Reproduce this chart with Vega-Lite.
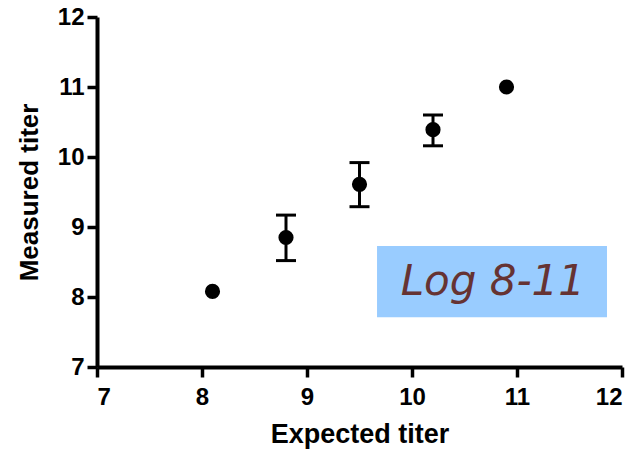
{
  "$schema": "https://vega.github.io/schema/vega-lite/v6.json",
  "width": 525,
  "height": 350,
  "autosize": {"type": "none"},
  "padding": {"left": 97, "top": 17, "right": 19, "bottom": 83},
  "background": "white",
  "config": {
    "view": {"stroke": null},
    "font": "Liberation Sans"
  },
  "datasets": {
    "pts": [
      {"expected": 8.1, "measured": 8.08, "lo": null, "hi": null},
      {"expected": 8.8, "measured": 8.85, "lo": 8.52, "hi": 9.17},
      {"expected": 9.5, "measured": 9.61, "lo": 9.29, "hi": 9.92},
      {"expected": 10.2, "measured": 10.39, "lo": 10.16, "hi": 10.6},
      {"expected": 10.9, "measured": 11.0, "lo": null, "hi": null}
    ],
    "box": [
      {"x1": 9.667, "x2": 11.857, "y1": 7.71, "y2": 8.73, "label": "Log 8-11", "xc": 10.77, "yc": 8.22}
    ]
  },
  "layer": [
    {
      "data": {"name": "box"},
      "mark": {"type": "rect", "color": "#99CCFF"},
      "encoding": {
        "x": {"field": "x1", "type": "quantitative", "scale": {"domain": [7, 12], "nice": false}},
        "x2": {"field": "x2"},
        "y": {"field": "y1", "type": "quantitative", "scale": {"domain": [7, 12], "nice": false}},
        "y2": {"field": "y2"}
      }
    },
    {
      "data": {"name": "box"},
      "mark": {"type": "text", "font": "DejaVu Sans", "fontStyle": "italic", "fontSize": 42, "color": "#663333", "align": "center", "baseline": "middle"},
      "encoding": {
        "x": {"field": "xc", "type": "quantitative"},
        "y": {"field": "yc", "type": "quantitative"},
        "text": {"field": "label"}
      }
    },
    {
      "data": {"name": "pts"},
      "transform": [{"filter": "datum.lo != null"}],
      "mark": {"type": "rule", "color": "black", "strokeWidth": 3},
      "encoding": {
        "x": {"field": "expected", "type": "quantitative"},
        "y": {"field": "lo", "type": "quantitative"},
        "y2": {"field": "hi"}
      }
    },
    {
      "data": {"name": "pts"},
      "transform": [{"filter": "datum.lo != null"}, {"fold": ["lo", "hi"], "as": ["k", "v"]}],
      "mark": {"type": "tick", "orient": "horizontal", "color": "black", "size": 20, "thickness": 3, "opacity": 1},
      "encoding": {
        "x": {"field": "expected", "type": "quantitative"},
        "y": {"field": "v", "type": "quantitative"}
      }
    },
    {
      "data": {"name": "pts"},
      "mark": {"type": "point", "filled": true, "color": "black", "opacity": 1, "size": 230},
      "encoding": {
        "x": {
          "field": "expected", "type": "quantitative",
          "scale": {"domain": [7, 12], "nice": false},
          "axis": {
            "title": "Expected titer", "values": [7, 8, 9, 10, 11, 12], "format": "d", "grid": false,
            "domainColor": "black", "domainWidth": 4, "tickColor": "black", "tickWidth": 3.5, "tickSize": 10,
            "labelFont": "Liberation Sans", "labelFontWeight": "bold", "labelFontSize": 24, "labelColor": "black", "labelPadding": 8,
            "titleFont": "Liberation Sans", "titleFontWeight": "bold", "titleFontSize": 27, "titleColor": "black", "titlePadding": 12
          }
        },
        "y": {
          "field": "measured", "type": "quantitative",
          "scale": {"domain": [7, 12], "nice": false},
          "axis": {
            "title": "Measured titer", "values": [7, 8, 9, 10, 11, 12], "format": "d", "grid": false,
            "domainColor": "black", "domainWidth": 4, "tickColor": "black", "tickWidth": 3.5, "tickSize": 10,
            "labelFont": "Liberation Sans", "labelFontWeight": "bold", "labelFontSize": 24, "labelColor": "black", "labelPadding": 3,
            "titleFont": "Liberation Sans", "titleFontWeight": "bold", "titleFontSize": 26, "titleColor": "black", "titlePadding": 15
          }
        }
      }
    }
  ]
}
